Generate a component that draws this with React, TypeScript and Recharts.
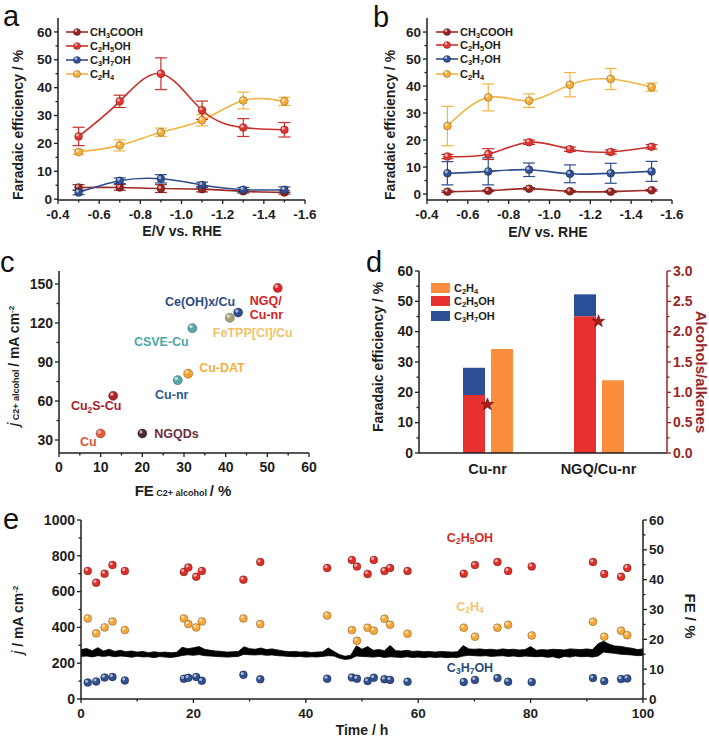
import React from 'react';
import { ComposedChart, Line, Area, Bar, Scatter, XAxis, YAxis, ErrorBar } from 'recharts';

const FONT = '"Liberation Sans", Arial, Helvetica, sans-serif';
const INK = '#1e1e1e';
const DARKRED = '#9a2626';

// ---------------- Panel a / b data ----------------
const POTENTIALS = [-0.5, -0.7, -0.9, -1.1, -1.3, -1.5];
const POT_TICKS = [-0.4, -0.5, -0.6, -0.7, -0.8, -0.9, -1.0, -1.1, -1.2, -1.3, -1.4, -1.5, -1.6];
const FE_TICKS = [0, 5, 10, 15, 20, 25, 30, 35, 40, 45, 50, 55, 60];

const A_CH3COOH = [4.2, 4.2, 3.8, 3.6, 2.8, 2.4];
const A_CH3COOH_ERR = [1.0, 1.0, 1.4, 1.0, 0.6, 0.6];
const A_C2H5OH = [22.5, 35.1, 45.0, 31.9, 25.7, 24.9];
const A_C2H5OH_ERR = [3.3, 2.2, 5.7, 3.3, 3.2, 2.6];
const A_C3H7OH = [2.4, 6.6, 7.3, 5.1, 3.4, 3.4];
const A_C3H7OH_ERR = [0.8, 1.0, 1.5, 1.0, 0.8, 1.0];
const A_C2H4 = [16.9, 19.3, 24.0, 28.3, 35.4, 35.1];
const A_C2H4_ERR = [0.8, 2.0, 1.5, 2.0, 3.0, 1.5];

const B_CH3COOH = [0.9, 1.2, 2.0, 1.0, 0.9, 1.4];
const B_CH3COOH_ERR = [0.3, 0.3, 0.4, 0.3, 0.3, 0.3];
const B_C2H5OH = [13.9, 14.8, 19.2, 16.6, 15.6, 17.5];
const B_C2H5OH_ERR = [0.8, 2.0, 0.8, 0.8, 0.8, 0.8];
const B_C3H7OH = [7.7, 8.4, 9.0, 7.5, 7.7, 8.4];
const B_C3H7OH_ERR = [4.3, 5.0, 2.5, 3.3, 3.7, 3.7];
const B_C2H4 = [25.2, 35.8, 34.6, 40.5, 42.6, 39.6];
const B_C2H4_ERR = [7.3, 5.0, 2.5, 4.5, 3.9, 1.5];

// ---------------- Panel c data ----------------
const C_CATALYSTS = ['Cu', 'Cu2S-Cu', 'NGQDs', 'Cu-nr', 'Cu-DAT', 'CSVE-Cu', 'FeTPP[Cl]/Cu', 'Ce(OH)x/Cu', 'NGQ/Cu-nr'];
const C_FE = [10, 13, 20, 28.5, 31, 32, 41, 43, 52.5];
const C_J = [35, 64, 35, 76, 81, 116, 124, 128, 147];
const C_X_TICKS = [0, 5, 10, 15, 20, 25, 30, 35, 40, 45, 50, 55, 60];
const C_Y_TICKS = [30, 45, 60, 75, 90, 105, 120, 135, 150];

// ---------------- Panel d data ----------------
const D_CATS = ['Cu-nr', 'NGQ/Cu-nr'];
const D_C2H5OH = [19.1, 45.1];
const D_C3H7OH = [9.0, 7.2];
const D_C2H4 = [34.3, 24.0];
const D_RATIO = [0.8, 2.17];
const D_LEFT_TICKS = [0, 5, 10, 15, 20, 25, 30, 35, 40, 45, 50, 55, 60];
const D_RIGHT_TICKS = [0, 0.25, 0.5, 0.75, 1, 1.25, 1.5, 1.75, 2, 2.25, 2.5, 2.75, 3];

// ---------------- Panel e data ----------------
const E_CURRENT_LO = [
  238, 240, 235, 242, 238, 242, 236, 240, 238, 233,
  239, 235, 236, 231, 237, 234, 232, 236, 243, 247,
  244, 248, 242, 240, 238, 236, 234, 236, 238, 250,
  247, 246, 248, 244, 246, 242, 240, 238, 236, 238,
  234, 236, 235, 238, 242, 240, 228, 221, 225, 240,
  238, 236, 234, 238, 232, 236, 234, 232, 236, 232,
  234, 231, 235, 232, 234, 231, 233, 232, 240, 244,
  242, 240, 242, 238, 240, 242, 238, 240, 236, 240,
  238, 236, 238, 233, 236, 228, 238, 234, 240, 236,
  238, 234, 240, 262, 258, 255, 250, 248, 246, 242,
  244,
];
const E_CURRENT_HI = [
  276, 282, 270, 287, 268, 278, 266, 272, 264, 268,
  262, 266, 259, 264, 260, 262, 258, 261, 289, 281,
  286, 293, 278, 272, 268, 266, 262, 264, 266, 292,
  281, 278, 285, 276, 280, 274, 268, 264, 266, 262,
  264, 260, 262, 264, 285, 266, 248, 239, 245, 297,
  278, 293, 272, 276, 270, 299, 270, 268, 272, 266,
  268, 264, 266, 262, 266, 264, 262, 264, 299, 280,
  278, 280, 276, 278, 274, 280, 276, 278, 274, 276,
  293, 272, 276, 274, 278, 276, 274, 280, 278, 276,
  280, 276, 309, 322, 306, 296, 294, 288, 284, 276,
  280,
];
const E_SAMPLE_T = [1.2, 2.7, 4.2, 5.6, 7.8, 18.3, 19.1, 20.5, 21.5, 28.9, 31.9, 43.8, 48.2, 49.1, 51.0, 52.1, 54.0, 55.0, 58.1, 68.1, 70.1, 74.1, 76.0, 80.2, 91.1, 93.1, 96.1, 97.2];
const E_FE_C2H5OH = [42.9, 39.0, 42.0, 44.9, 42.9, 42.6, 44.1, 41.0, 42.9, 40.0, 45.9, 43.9, 46.6, 44.4, 41.9, 46.6, 42.9, 43.9, 42.9, 42.0, 44.9, 45.9, 42.9, 44.4, 45.9, 41.9, 41.0, 43.9];
const E_FE_C2H4 = [27.0, 22.0, 24.0, 26.0, 23.1, 27.0, 25.1, 24.0, 26.0, 27.0, 25.1, 28.0, 23.1, 19.5, 23.9, 22.9, 26.9, 24.9, 21.9, 23.9, 20.9, 23.9, 24.9, 21.3, 25.9, 20.9, 22.9, 21.4];
const E_FE_C3H7OH = [5.5, 5.9, 7.2, 7.4, 6.2, 6.8, 7.1, 7.4, 6.1, 8.1, 6.6, 6.8, 7.2, 6.8, 6.0, 7.1, 6.6, 6.4, 5.8, 5.7, 6.4, 7.0, 5.8, 5.7, 7.0, 6.0, 6.7, 6.9];
const E_X_TICKS = [0, 10, 20, 30, 40, 50, 60, 70, 80, 90, 100];
const E_J_TICKS = [0, 100, 200, 300, 400, 500, 600, 700, 800, 900, 1000];
const E_FE_TICKS = [0, 5, 10, 15, 20, 25, 30, 35, 40, 45, 50, 55, 60];

// ---------------- styles ----------------
const COL = {
  ch3cooh: { line: '#9c2a26', dot: '#962421' },
  c2h5oh: { line: '#c9302c', dot: '#e0352f' },
  c3h7oh: { line: '#2f4d8c', dot: '#2f4f92' },
  c2h4: { line: '#f2b440', dot: '#f3ae3a' },
};
const SERIES = [
  { key: 'c2h4', label: 'C2H4' },
  { key: 'ch3cooh', label: 'CH3COOH' },
  { key: 'c3h7oh', label: 'C3H7OH' },
  { key: 'c2h5oh', label: 'C2H5OH' },
];
const LEGEND_ORDER = ['ch3cooh', 'c2h5oh', 'c3h7oh', 'c2h4'];
const LEGEND_LABEL: Record<string, string> = { ch3cooh: 'CH3COOH', c2h5oh: 'C2H5OH', c3h7oh: 'C3H7OH', c2h4: 'C2H4' };

const C_STYLE: Record<string, { dot: string; text: string; dx: number; dy: number; anchor: 'start' | 'middle' | 'end' }> = {
  'Cu': { dot: '#ea5a3a', text: '#e0583a', dx: -4, dy: 12, anchor: 'end' },
  'Cu2S-Cu': { dot: '#b0202a', text: '#a8202a', dx: -17, dy: 14, anchor: 'middle' },
  'NGQDs': { dot: '#4a2838', text: '#6e2c3c', dx: 12, dy: 4, anchor: 'start' },
  'Cu-nr': { dot: '#5aa6a8', text: '#2c5a8c', dx: -6, dy: 19, anchor: 'middle' },
  'Cu-DAT': { dot: '#f3a02c', text: '#f2b040', dx: 11, dy: -2, anchor: 'start' },
  'CSVE-Cu': { dot: '#5aa6a8', text: '#4aa8aa', dx: -31, dy: 18, anchor: 'middle' },
  'FeTPP[Cl]/Cu': { dot: '#a39f7a', text: '#f0c268', dx: -17, dy: 19, anchor: 'start' },
  'Ce(OH)x/Cu': { dot: '#2c4c8c', text: '#2c4c88', dx: -38, dy: -7, anchor: 'middle' },
  'NGQ/Cu-nr': { dot: '#e0262a', text: '#d42424', dx: -28, dy: 17, anchor: 'start' },
};
const C_LABEL_LINES: Record<string, string[]> = { 'NGQ/Cu-nr': ['NGQ/', 'Cu-nr'] };

const D_COL = { c2h4: '#fa8e3c', c2h5oh: '#e8302e', c3h7oh: '#2b4f97' };

// ---------------- helpers ----------------
type Box = { x: number; y: number; w: number; h: number };
type Plot = { l: number; t: number; r: number; b: number };
function marginFor(box: Box, p: Plot, lw: number, rw: number, bh: number, th: number) {
  return { left: p.l - box.x - lw, right: box.x + box.w - p.r - rw, top: p.t - box.y - th, bottom: box.y + box.h - p.b - bh };
}
function isMult(v: number, step: number) {
  const q = v / step;
  return Math.abs(q - Math.round(q)) < 1e-6;
}
const AXL = { stroke: INK, strokeWidth: 1.5 };

function svgChem(s: string, size: number) {
  const parts = s.split(/(\d+)/).filter((p) => p.length);
  const out: any[] = [];
  let down = false;
  parts.forEach((p, i) => {
    if (/^\d+$/.test(p)) {
      out.push(<tspan key={i} fontSize={size * 0.68} dy={size * 0.22}>{p}</tspan>);
      down = true;
    } else {
      out.push(<tspan key={i} dy={down ? -size * 0.22 : 0}>{p}</tspan>);
      down = false;
    }
  });
  return out;
}
function Chem({ s }: { s: string }) {
  const parts = s.split(/(\d+)/).filter((p) => p.length);
  return (
    <>
      {parts.map((p, i) =>
        /^\d+$/.test(p) ? (
          <span key={i} style={{ fontSize: '0.68em', position: 'relative', top: '0.25em' }}>{p}</span>
        ) : (
          <span key={i}>{p}</span>
        )
      )}
    </>
  );
}

function tickFactory(
  orient: 'left' | 'right' | 'bottom',
  majorStep: number | null,
  fmt: (v: any) => string,
  opts: { color?: string; size?: number; ML?: number; mL?: number; gap?: number } = {}
) {
  const color = opts.color ?? INK;
  const size = opts.size ?? 14;
  const ML = opts.ML ?? 4;
  const mL = opts.mL ?? 2.5;
  const gap = opts.gap ?? 2;
  return (p: any) => {
    const { x, y, payload } = p;
    const v = payload.value;
    const major = majorStep == null ? true : isMult(v, majorStep);
    const L = major ? ML : mL;
    const tp = { fill: color, fontSize: size, fontWeight: 700, fontFamily: FONT } as any;
    if (orient === 'left') {
      return (
        <g>
          {L > 0 && <line x1={x} y1={y} x2={x - L} y2={y} stroke={color} strokeWidth={1.3} />}
          {major && <text x={x - ML - gap} y={y} dy="0.34em" textAnchor="end" {...tp}>{fmt(v)}</text>}
        </g>
      );
    }
    if (orient === 'right') {
      return (
        <g>
          {L > 0 && <line x1={x} y1={y} x2={x + L} y2={y} stroke={color} strokeWidth={1.3} />}
          {major && <text x={x + ML + gap} y={y} dy="0.34em" textAnchor="start" {...tp}>{fmt(v)}</text>}
        </g>
      );
    }
    return (
      <g>
        {L > 0 && <line x1={x} y1={y} x2={x} y2={y + L} stroke={color} strokeWidth={1.3} />}
        {major && <text x={x} y={y + ML + gap + 3} dy="0.72em" textAnchor="middle" {...tp}>{fmt(v)}</text>}
      </g>
    );
  };
}

function Sphere({ cx, cy, r, color }: { cx: number; cy: number; r: number; color: string }) {
  return (
    <g>
      <circle cx={cx} cy={cy} r={r} fill={color} stroke="rgba(0,0,0,0.35)" strokeWidth={0.7} />
      <circle cx={cx - r * 0.3} cy={cy - r * 0.35} r={r * 0.38} fill="#fff" fillOpacity={0.6} />
    </g>
  );
}
const dotFor = (color: string, r = 4) => (p: any) => {
  if (p.cx == null || p.cy == null) return <g key={p.index} />;
  return <Sphere key={p.index} cx={p.cx} cy={p.cy} r={r} color={color} />;
};
const sphereShape = (color: string, r = 4) => (p: any) => {
  if (p.cx == null || p.cy == null) return <g />;
  return <Sphere cx={p.cx} cy={p.cy} r={r} color={color} />;
};

function Txt({ x, y, children, size = 14, color = INK, weight = 700, rotate = 0, style }: any) {
  return (
    <div
      style={{
        position: 'absolute', left: x, top: y,
        transform: `translate(-50%,-50%) rotate(${rotate}deg)`,
        whiteSpace: 'nowrap', fontFamily: FONT, fontSize: size, fontWeight: weight, color, lineHeight: 1, ...style,
      }}
    >
      {children}
    </div>
  );
}
// baseline: y coordinate of the glyph baseline
function Letter({ x, baseline, ch }: { x: number; baseline: number; ch: string }) {
  const size = 29;
  return (
    <div style={{ position: 'absolute', left: x, top: baseline - size * 0.905, fontFamily: FONT, fontSize: size, lineHeight: `${Math.round(size * 1.117)}px`, height: Math.round(size * 1.117), color: '#111' }}>{ch}</div>
  );
}
function LineLegend({ x, y, size = 11 }: { x: number; y: number[]; size?: number }) {
  return (
    <>
      {LEGEND_ORDER.map((k, i) => {
        const c = (COL as any)[k];
        return (
          <div key={k} style={{ position: 'absolute', left: x, top: y[i] - 7, height: 14, display: 'flex', alignItems: 'center', fontFamily: FONT, fontSize: size, fontWeight: 700, color: '#222', whiteSpace: 'nowrap' }}>
            <svg width={22} height={14} style={{ display: 'block' }}>
              <line x1={0} x2={22} y1={7} y2={7} stroke={c.line} strokeWidth={1.6} />
              <Sphere cx={11} cy={7} r={3.6} color={c.dot} />
            </svg>
            <span style={{ marginLeft: 2 }}><Chem s={LEGEND_LABEL[k]} /></span>
          </div>
        );
      })}
    </>
  );
}

// ---------------- data tables ----------------
function buildRows(ch3: number[], ch3e: number[], et: number[], ete: number[], pr: number[], pre: number[], eth: number[], ethe: number[]) {
  return POTENTIALS.map((E, i) => ({
    E,
    ch3cooh: ch3[i], ch3coohErr: ch3e[i],
    c2h5oh: et[i], c2h5ohErr: ete[i],
    c3h7oh: pr[i], c3h7ohErr: pre[i],
    c2h4: eth[i], c2h4Err: ethe[i],
  }));
}
const ROWS_A = buildRows(A_CH3COOH, A_CH3COOH_ERR, A_C2H5OH, A_C2H5OH_ERR, A_C3H7OH, A_C3H7OH_ERR, A_C2H4, A_C2H4_ERR);
const ROWS_B = buildRows(B_CH3COOH, B_CH3COOH_ERR, B_C2H5OH, B_C2H5OH_ERR, B_C3H7OH, B_C3H7OH_ERR, B_C2H4, B_C2H4_ERR);
const ROWS_C = C_CATALYSTS.map((name, i) => ({ name, fe: C_FE[i], j: C_J[i] }));
const ROWS_D = D_CATS.map((cat, i) => ({ cat, c2h5oh: D_C2H5OH[i], c3h7oh: D_C3H7OH[i], c2h4: D_C2H4[i], ratio: D_RATIO[i] }));
const ROWS_E = E_CURRENT_LO.map((lo, i) => ({ t: i, band: [lo, E_CURRENT_HI[i]] }));
const PTS_E = (fe: number[]) => E_SAMPLE_T.map((t, i) => ({ t, fe: fe[i] }));

// ---------------- panels ----------------
function FEPanel({ rows, box, plot, yDomain }: { rows: any[]; box: Box; plot: Plot; yDomain: [number, number] }) {
  const m = marginFor(box, plot, 40, 0, 25, 0);
  return (
    <div style={{ position: 'absolute', left: box.x, top: box.y }}>
      <ComposedChart width={box.w} height={box.h} data={rows} margin={m}>
        <XAxis dataKey="E" type="number" domain={[-1.6, -0.4]} reversed allowDataOverflow ticks={POT_TICKS} interval={0}
          tickSize={0} tickMargin={0} tickLine={false} tick={tickFactory('bottom', 0.2, (v) => v.toFixed(1), { size: 13.5 })} axisLine={AXL} height={25} />
        <XAxis xAxisId="top" orientation="top" type="number" domain={[-1.6, -0.4]} reversed allowDataOverflow tick={false} tickLine={false} axisLine={AXL} height={0} />
        <YAxis type="number" domain={yDomain} allowDataOverflow ticks={FE_TICKS} interval={0}
          tickSize={0} tickMargin={0} tickLine={false} tick={tickFactory('left', 10, (v) => String(v), { size: 13.5 })} axisLine={AXL} width={40} />
        <YAxis yAxisId="rf" orientation="right" type="number" domain={[0, 1]} tick={false} tickLine={false} axisLine={AXL} width={0} />
        {SERIES.map((s) => {
          const c = (COL as any)[s.key];
          return (
            <Line key={s.key} dataKey={s.key} type="natural" stroke={c.line} strokeWidth={1.6} dot={dotFor(c.dot)} activeDot={false} isAnimationActive={false}>
              <ErrorBar dataKey={s.key + 'Err'} width={6} stroke={c.line} strokeWidth={1.2} direction="y" />
            </Line>
          );
        })}
      </ComposedChart>
    </div>
  );
}

function PanelC() {
  const box = { x: 0, y: 245, w: 350, h: 250 };
  const plot = { l: 59, t: 271, r: 309, b: 453 };
  const m = marginFor(box, plot, 40, 0, 25, 0);
  const shape = (p: any) => {
    const { cx, cy, payload } = p;
    if (cx == null || cy == null) return <g />;
    const st = C_STYLE[payload.name];
    const lines = C_LABEL_LINES[payload.name] ?? [payload.name];
    return (
      <g>
        <Sphere cx={cx} cy={cy} r={4.6} color={st.dot} />
        {lines.map((ln, k) => (
          <text key={k} x={cx + st.dx} y={cy + st.dy + k * 14} textAnchor={st.anchor} fill={st.text} fontSize={12.5} fontWeight={700} fontFamily={FONT}>
            {svgChem(ln, 12.5)}
          </text>
        ))}
      </g>
    );
  };
  return (
    <div style={{ position: 'absolute', left: box.x, top: box.y }}>
      <ComposedChart width={box.w} height={box.h} margin={m}>
        <XAxis dataKey="fe" type="number" domain={[0, 60]} allowDataOverflow ticks={C_X_TICKS} interval={0}
          tickSize={0} tickMargin={0} tickLine={false} tick={tickFactory('bottom', 10, (v) => String(v))} axisLine={AXL} height={25} />
        <XAxis xAxisId="top" orientation="top" type="number" domain={[0, 60]} allowDataOverflow tick={false} tickLine={false} axisLine={AXL} height={0} />
        <YAxis type="number" domain={[20, 160]} allowDataOverflow ticks={C_Y_TICKS} interval={0}
          tickSize={0} tickMargin={0} tickLine={false} tick={tickFactory('left', 30, (v) => String(v))} axisLine={AXL} width={40} />
        <YAxis yAxisId="rf" orientation="right" type="number" domain={[0, 1]} tick={false} tickLine={false} axisLine={AXL} width={0} />
        <Scatter data={ROWS_C} dataKey="j" shape={shape} isAnimationActive={false} />
      </ComposedChart>
    </div>
  );
}

function PanelD() {
  const box = { x: 360, y: 245, w: 349, h: 250 };
  const plot = { l: 419, t: 271, r: 667, b: 453 };
  const m = marginFor(box, plot, 40, 35, 25, 0);
  const star = (p: any) => {
    const { cx, cy } = p;
    if (cx == null || cy == null) return <g />;
    const pts: string[] = [];
    for (let k = 0; k < 10; k++) {
      const R = k % 2 === 0 ? 6.5 : 2.7;
      const a = (-90 + k * 36) * Math.PI / 180;
      pts.push(`${cx + R * Math.cos(a)},${cy + R * Math.sin(a)}`);
    }
    return <polygon points={pts.join(' ')} fill="#a81c1c" stroke="#6a1010" strokeWidth={0.6} />;
  };
  return (
    <div style={{ position: 'absolute', left: box.x, top: box.y }}>
      <ComposedChart width={box.w} height={box.h} data={ROWS_D} margin={m} barGap={6}>
        <XAxis dataKey="cat" type="category" padding={{ left: 13, right: 13 }} interval={0}
          tickSize={0} tickMargin={0} tickLine={false} tick={tickFactory('bottom', null, (v) => String(v), { ML: 0, gap: 8, size: 14.5 })} axisLine={AXL} height={25} />
        <XAxis xAxisId="top" orientation="top" dataKey="cat" type="category" padding={{ left: 13, right: 13 }} tick={false} tickLine={false} axisLine={AXL} height={0} />
        <YAxis yAxisId="l" type="number" domain={[0, 60]} allowDataOverflow ticks={D_LEFT_TICKS} interval={0}
          tickSize={0} tickMargin={0} tickLine={false} tick={tickFactory('left', 10, (v) => String(v))} axisLine={AXL} width={40} />
        <YAxis yAxisId="r" orientation="right" type="number" domain={[0, 3]} allowDataOverflow ticks={D_RIGHT_TICKS} interval={0}
          tickSize={0} tickMargin={0} tickLine={false} tick={tickFactory('right', 0.5, (v) => v.toFixed(1), { color: DARKRED })}
          axisLine={{ stroke: DARKRED, strokeWidth: 1.5 }} width={35} />
        <Bar yAxisId="l" dataKey="c2h5oh" stackId="alc" fill={D_COL.c2h5oh} barSize={22} isAnimationActive={false} />
        <Bar yAxisId="l" dataKey="c3h7oh" stackId="alc" fill={D_COL.c3h7oh} barSize={22} isAnimationActive={false} />
        <Bar yAxisId="l" dataKey="c2h4" fill={D_COL.c2h4} barSize={22} isAnimationActive={false} />
        <Scatter yAxisId="r" dataKey="ratio" shape={star} isAnimationActive={false} />
      </ComposedChart>
    </div>
  );
}

function PanelE() {
  const box = { x: 0, y: 495, w: 709, h: 246 };
  const plot = { l: 81, t: 520, r: 643, b: 699 };
  const m = marginFor(box, plot, 50, 40, 25, 0);
  return (
    <div style={{ position: 'absolute', left: box.x, top: box.y }}>
      <ComposedChart width={box.w} height={box.h} data={ROWS_E} margin={m}>
        <XAxis dataKey="t" type="number" domain={[0, 100]} allowDataOverflow ticks={E_X_TICKS} interval={0}
          tickSize={0} tickMargin={0} tickLine={false} tick={tickFactory('bottom', 20, (v) => String(v), { size: 13.5 })} axisLine={AXL} height={25} />
        <XAxis xAxisId="top" orientation="top" type="number" domain={[0, 100]} allowDataOverflow tick={false} tickLine={false} axisLine={AXL} height={0} />
        <YAxis yAxisId="j" type="number" domain={[0, 1000]} allowDataOverflow ticks={E_J_TICKS} interval={0}
          tickSize={0} tickMargin={0} tickLine={false} tick={tickFactory('left', 200, (v) => String(v))} axisLine={AXL} width={50} />
        <YAxis yAxisId="fe" orientation="right" type="number" domain={[0, 60]} allowDataOverflow ticks={E_FE_TICKS} interval={0}
          tickSize={0} tickMargin={0} tickLine={false} tick={tickFactory('right', 10, (v) => String(v), { size: 13.5 })} axisLine={AXL} width={40} />
        <Area yAxisId="j" dataKey="band" type="linear" stroke="#000" strokeWidth={0.8} fill="#000" fillOpacity={1} dot={false} activeDot={false} isAnimationActive={false} />
        <Scatter yAxisId="fe" data={PTS_E(E_FE_C2H5OH)} dataKey="fe" shape={sphereShape('#dc2f2a')} isAnimationActive={false} />
        <Scatter yAxisId="fe" data={PTS_E(E_FE_C2H4)} dataKey="fe" shape={sphereShape('#f4a83a')} isAnimationActive={false} />
        <Scatter yAxisId="fe" data={PTS_E(E_FE_C3H7OH)} dataKey="fe" shape={sphereShape('#2f4f8e')} isAnimationActive={false} />
      </ComposedChart>
    </div>
  );
}

export default function App() {
  return (
    <div style={{ position: 'absolute', left: 0, top: 0, width: 709, height: 741, background: '#fff', overflow: 'hidden', fontFamily: FONT }}>
      {/* panel a */}
      <FEPanel rows={ROWS_A} box={{ x: 0, y: 0, w: 345, h: 245 }} plot={{ l: 58, t: 18, r: 305, b: 200 }} yDomain={[-0.3, 65]} />
      <LineLegend x={66} y={[32, 46, 60, 74]} />
      <Txt x={182} y={231}>E/V vs. RHE</Txt>
      <Txt x={18} y={125} rotate={-90}>Faradaic efficiency / %</Txt>
      <Letter x={3} baseline={26.5} ch="a" />

      {/* panel b */}
      <FEPanel rows={ROWS_B} box={{ x: 350, y: 0, w: 359, h: 245 }} plot={{ l: 427, t: 18, r: 672, b: 200 }} yDomain={[-2.2, 65.2]} />
      <LineLegend x={436} y={[32, 45, 59, 74]} />
      <Txt x={548} y={232}>E/V vs. RHE</Txt>
      <Txt x={390} y={125} rotate={-90}>Faradaic efficiency / %</Txt>
      <Letter x={373} baseline={27.5} ch="b" />

      {/* panel c */}
      <PanelC />
      <Txt x={14} y={366} rotate={-90}>
        <i style={{ fontWeight: 400, fontSize: 16 }}>j</i>
        <span style={{ fontSize: 9 }}> C2+ alcohol </span>
        <span>/ mA cm</span>
        <span style={{ fontSize: 8, position: 'relative', top: '-0.6em' }}>-2</span>
      </Txt>
      <Txt x={183} y={490}>
        <span style={{ fontSize: 15 }}>FE</span>
        <span style={{ fontSize: 9 }}> C2+ alcohol </span>
        <span style={{ fontSize: 15 }}>/ %</span>
      </Txt>
      <Letter x={0} baseline={272} ch="c" />

      {/* panel d */}
      <PanelD />
      {(['c2h4', 'c2h5oh', 'c3h7oh'] as const).map((k, i) => (
        <div key={k} style={{ position: 'absolute', left: 431, top: [288, 301, 316][i] - 6, height: 12, display: 'flex', alignItems: 'center', fontFamily: FONT, fontSize: 11, fontWeight: 700, color: '#222', whiteSpace: 'nowrap' }}>
          <div style={{ width: 19, height: 10, background: D_COL[k] }} />
          <span style={{ marginLeft: 4 }}><Chem s={LEGEND_LABEL[k]} /></span>
        </div>
      ))}
      <Txt x={378} y={357} rotate={-90}>Faradaic efficiency / %</Txt>
      <Txt x={701} y={372} rotate={90} size={15} color={DARKRED}>Alcohols/alkenes</Txt>
      <Letter x={366} baseline={272} ch="d" />

      {/* panel e */}
      <PanelE />
      <Txt x={470} y={538} size={12.5} color="#d42a28"><Chem s="C2H5OH" /></Txt>
      <Txt x={470} y={607} size={12.5} color="#f6c46a"><Chem s="C2H4" /></Txt>
      <Txt x={470} y={668} size={12.5} color="#2c4a80"><Chem s="C3H7OH" /></Txt>
      <Txt x={18} y={620} rotate={-90}>
        <i style={{ fontWeight: 400, fontSize: 16 }}>j</i>
        <span> / mA cm</span>
        <span style={{ fontSize: 8, position: 'relative', top: '-0.6em' }}>-2</span>
      </Txt>
      <Txt x={362} y={730}>Time / h</Txt>
      <Txt x={690} y={616} rotate={90} size={15}>FE / %</Txt>
      <Letter x={3} baseline={529} ch="e" />
    </div>
  );
}
